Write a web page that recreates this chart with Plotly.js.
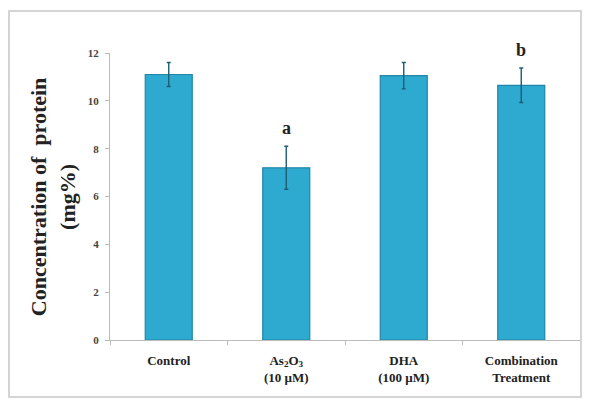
<!DOCTYPE html>
<html>
<head>
<meta charset="utf-8">
<script src="https://cdn.plot.ly/plotly-3.0.1.min.js"></script>
<style>html,body{margin:0;padding:0;background:#fff;}#chart{width:589px;height:400px;}</style>
</head>
<body>
<div id="chart"></div>
<script>
const categories = ["Control", "As<sub>2</sub>O<sub>3</sub><br>(10 µM)", "DHA<br>(100 µM)", "Combination<br>Treatment"];
const proteinMeans = [11.1, 7.2, 11.05, 10.65];
const proteinErrors = [0.5, 0.9, 0.55, 0.72];
const sigLabels = ["", "a", "", "b"];
const yTicks = [0, 2, 4, 6, 8, 10, 12];

const serif = "Liberation Serif";

const trace = {
  type: "bar",
  x: categories,
  y: proteinMeans,
  width: 0.4,
  marker: {color: "#2eaad0", line: {color: "#1f86a8", width: 1.2}},
  error_y: {type: "data", array: proteinErrors, visible: true, color: "#1d5d73", thickness: 1.4, width: 2},
  hoverinfo: "none"
};

const annotations = [];
sigLabels.forEach((s, i) => {
  if (s) annotations.push({
    x: categories[i], y: proteinMeans[i] + proteinErrors[i], xref: "x", yref: "y",
    text: "<b>" + s + "</b>", showarrow: false, yanchor: "bottom", yshift: 6,
    font: {family: serif, size: 18, color: "#222"}
  });
});
annotations.push({
  xref: "paper", yref: "paper", x: -0.122, y: 0.5, xanchor: "center", yanchor: "middle",
  textangle: -90, showarrow: false,
  text: "<b>Concentration of  protein</b><br><b>(mg%)</b>",
  font: {family: serif, size: 22, color: "#222"}
});

const layout = {
  width: 589, height: 400,
  margin: {l: 110, r: 9, t: 53, b: 60},
  paper_bgcolor: "#fff", plot_bgcolor: "#fff",
  showlegend: false,
  xaxis: {
    type: "category", showline: true, linecolor: "#bbb", linewidth: 1,
    ticks: "outside", tickson: "boundaries", ticklen: 4, tickcolor: "#bbb",
    ticklabelstandoff: 8,
    tickmode: "array", tickvals: categories, ticktext: categories.map(c => "<b>" + c + "</b>"),
    tickfont: {family: serif, size: 13, color: "#222"},
    showgrid: false, zeroline: false
  },
  yaxis: {
    range: [0, 12], tickmode: "array", tickvals: yTicks, ticktext: yTicks.map(v => "<b>" + v + "</b>"),
    showline: true, linecolor: "#bbb", linewidth: 1,
    ticks: "outside", ticklen: 4, tickcolor: "#bbb",
    ticklabelstandoff: 4,
    tickfont: {family: serif, size: 11, color: "#444"},
    showgrid: false, zeroline: false
  },
  annotations: annotations,
  shapes: [{
    type: "rect", xref: "paper", yref: "paper",
    x0: -0.2149, x1: 1.002, y0: -0.1986, y1: 1.1463,
    line: {color: "#d4d4d4", width: 2}
  }]
};

Plotly.newPlot("chart", [trace], layout, {staticPlot: true});
</script>
</body>
</html>
